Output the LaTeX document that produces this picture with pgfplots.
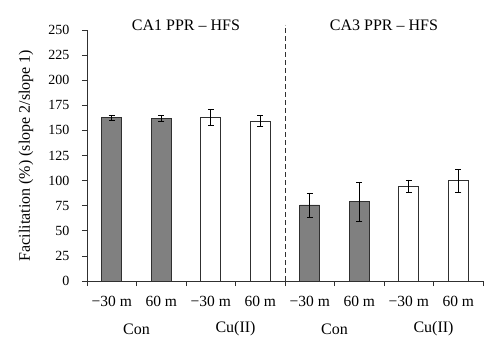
\documentclass[border=0pt]{standalone}
\usepackage{pgfplots}
\pgfplotsset{compat=1.18}
\usepackage{fontspec}
\setmainfont{Liberation Serif}
\definecolor{barfill}{HTML}{808080}
\definecolor{edge}{HTML}{303030}
\begin{document}
\begin{tikzpicture}
\begin{axis}[
  name=ax,
  scale only axis, width=396pt, height=251pt,
  xmin=-0.5, xmax=7.5, ymin=0, ymax=250,
  clip=false,
  axis lines=left,
  axis line style={-, line width=0.8pt, edge},
  ytick={0,25,...,250},
  xtick={0,...,7},
  xticklabels={−30 m,60 m,−30 m,60 m,−30 m,60 m,−30 m,60 m},
  minor xtick={-0.5,0.5,...,7.5},
  tick align=outside,
  major tick length=5pt, minor tick length=5pt,
  tick style={line width=0.8pt, edge},
  major x tick style={draw=none},
  /pgf/number format/assume math mode=true,
  yticklabel style={font=\fontsize{14}{16}\selectfont, xshift=-9pt},
  xticklabel style={font=\fontsize{15.5}{17}\selectfont, yshift=-7pt},
  every axis y label/.style={at={([xshift=-61pt]axis description cs:0,0.5)}, rotate=90, anchor=center, font=\fontsize{16}{18}\selectfont},
  ylabel={Facilitation (\%) (slope 2/slope 1)},
]
\addplot[ybar, bar width=0.4, bar shift=0pt, fill=barfill, draw=edge, line width=0.8pt,
  error bars/.cd, y dir=both, y explicit,
  error bar style={black, line width=0.8pt},
  error mark options={rotate=90, mark size=3pt, black, line width=0.8pt}]
  table[x=x, y=y, y error=e] {
x y e
0 162.6 2.5
1 162.0 2.7
4 75.7 12.0
5 79.0 19.3
};
\addplot[ybar, bar width=0.4, bar shift=0pt, fill=white, draw=edge, line width=0.8pt,
  error bars/.cd, y dir=both, y explicit,
  error bar style={black, line width=0.8pt},
  error mark options={rotate=90, mark size=3pt, black, line width=0.8pt}]
  table[x=x, y=y, y error=e] {
x y e
2 163.0 7.8
3 159.4 5.5
6 94.6 6.0
7 100.0 11.5
};
\draw[edge, line width=0.8pt, dash pattern=on 5pt off 3pt] (axis cs:3.5,0) -- (axis cs:3.5,255);
\node[font=\fontsize{16}{18}\selectfont] at (axis cs:1.5,255) {CA1 PPR – HFS};
\node[font=\fontsize{16}{18}\selectfont] at (axis cs:5.5,255) {CA3 PPR – HFS};
\node[font=\fontsize{16}{18}\selectfont] at ([yshift=-48pt]axis cs:0.5,0) {Con};
\node[font=\fontsize{16}{18}\selectfont] at ([yshift=-48pt]axis cs:2.5,0) {Cu(II)};
\node[font=\fontsize{16}{18}\selectfont] at ([yshift=-48pt]axis cs:4.5,0) {Con};
\node[font=\fontsize{16}{18}\selectfont] at ([yshift=-48pt]axis cs:6.5,0) {Cu(II)};
\end{axis}
\pgfresetboundingbox
\path[use as bounding box] ([xshift=-87pt,yshift=-72pt]ax.south west) rectangle ([xshift=17pt,yshift=30pt]ax.north east);
\end{tikzpicture}
\end{document}
